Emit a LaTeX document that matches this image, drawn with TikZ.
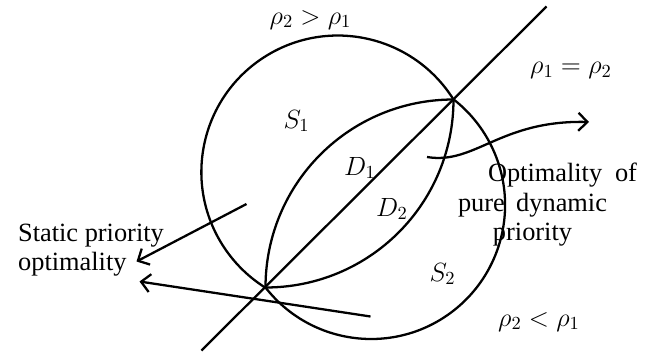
\documentclass[tikz,border=0pt]{standalone}
\usepackage{fix-cm}
\usepackage[no-math]{fontspec}
\setmainfont{Liberation Serif}
\usepackage{tikz}
\usetikzlibrary{arrows.meta,positioning}

\begin{document}
\begin{tikzpicture}[>={Straight Barb[length=1.8mm,width=3.6mm]},line width=1.3pt,font=\fontsize{15}{16.2}\selectfont]
\useasboundingbox (0,0) rectangle (13.24,7.12);
\coordinate (lo) at (5.31,1.37);
\coordinate (hi) at (9.07,5.13);
\coordinate (le) at (4.03,0.11);
\coordinate (he) at (10.93,6.99);

% the two halves of the region, then the line rho_1 = rho_2
\draw (hi) arc[start angle=32.1, end angle=237.9, radius=2.73];
\draw (lo) arc[start angle=218, end angle=412, radius=2.68];
\draw (le) -- (he);
\draw (lo) to[out=90,in=180] (hi);
\draw (lo) to[out=0,in=270] (hi);

\node[anchor=base] (rgt) at (6.21,6.64) {$\rho_2>\rho_1$};
\node[anchor=base] (req) at (11.42,5.65) {$\rho_1=\rho_2$};
\node[anchor=base] (rlt) at (10.78,0.60) {$\rho_2<\rho_1$};
\node[anchor=base] (s1) at (5.93,4.56) {$S_1$};
\node[anchor=base] (s2) at (8.85,1.50) {$S_2$};
\node[anchor=base] (d1) at (7.20,3.62) {$D_1$};
\node[anchor=base] (d2) at (7.84,2.80) {$D_2$};

\node[anchor=base west,align=left,inner sep=0pt] (stat) at (0.34,1.72) {Static priority\\optimality};
\node[anchor=base,inner sep=0pt] (opt) at (11.25,3.50) {\makebox[2.98cm][s]{Optimality of}};
\node[anchor=base,align=center,inner sep=0pt] (pdp) at (10.65,2.32) {\makebox[2.98cm][s]{pure dynamic}\\priority};

% arrows to the two texts
\coordinate (w0) at (8.54,3.98);
\coordinate (w1) at (11.78,4.68);
\draw[->] (w0) .. controls (9.50,3.82) and (10.00,4.72) .. (w1);
\coordinate (a0) at (4.93,3.04);
\coordinate (a1) at (2.73,1.89);
\draw[->] (a0) -- (a1);
\coordinate (b0) at (7.41,0.79);
\coordinate (b1) at (2.79,1.49);
\draw[->] (b0) -- (b1);
\end{tikzpicture}
\end{document}
